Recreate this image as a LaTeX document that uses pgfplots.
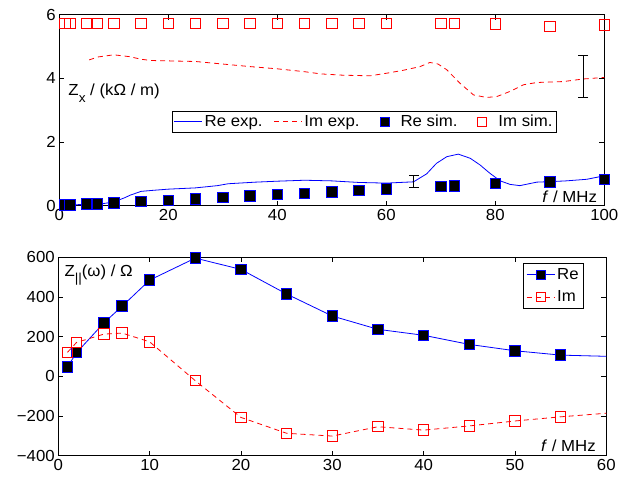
\documentclass[border=0pt]{standalone}
\usepackage{pgfplots}
\pgfplotsset{compat=1.18}
\usepackage{fontspec}
\setmainfont[FakeStretch=1.05]{Liberation Sans}

\definecolor{mblue}{rgb}{0,0,1}
\definecolor{mred}{rgb}{1,0,0}

\pgfplotsset{
  mstyle/.style={
    scale only axis, clip=false,
    tick align=inside, major tick length=5pt,
    axis line style={line width=1pt},
    every tick/.style={black, line width=0.8pt},
    tick label style={font=\fontsize{16}{18}\selectfont},
    /pgf/number format/assume math mode=true,
    legend cell align=left,
    legend style={font=\fontsize{16}{18}\selectfont,
      inner sep=2pt, nodes={inner sep=2pt}},
  },
  bluelineleg/.style={legend image code/.code={
    \draw[draw=mblue, line width=0.9pt] (0pt,0pt) -- (28pt,0pt);}},
  redlineleg/.style={legend image code/.code={
    \draw[draw=mred, line width=0.9pt, dash pattern=on 5pt off 4pt] (0pt,0pt) -- (28pt,0pt);}},
  markleg/.style={legend image code/.code={
    \path[draw=none] (0pt,0pt) -- (28pt,0pt);
    \path[##1, draw=none, mark size=4.5pt] plot coordinates {(14pt,0pt)};}},
  releg/.style={legend image code/.code={
    \draw[draw=mblue, line width=0.9pt] (0pt,0pt) -- (28pt,0pt);
    \path[##1, draw=none, mark size=4.5pt] plot coordinates {(14pt,0pt)};}},
  imleg/.style={legend image code/.code={
    \draw[draw=mred, line width=0.9pt, dash pattern=on 5pt off 4pt] (0pt,0pt) -- (28pt,0pt);
    \path[##1, draw=none, mark size=4.5pt] plot coordinates {(14pt,0pt)};}},
  errbar/.style={black, line width=1pt, mark=-, mark size=5pt,
    mark options={solid, line width=1pt}, forget plot},
}

\begin{document}
\begin{tikzpicture}[font=\fontsize{16}{18}\selectfont]
\useasboundingbox (0,0) rectangle (630pt,-477pt);

% upper panel: transverse impedance
\begin{axis}[mstyle,
  at={(59.3pt,-205.7pt)}, anchor=south west,
  width=545pt, height=191pt,
  xmin=0, xmax=100, ymin=0, ymax=6,
  xtick={0,20,...,100}, ytick={0,2,4,6},
  legend columns=4,
  legend style={at={(0.206,0.496)}, anchor=north west,
    /tikz/every even column/.append style={column sep=9pt}},
]
\addplot[mblue, line width=0.8pt, bluelineleg] coordinates {
  (0.5,0.02) (5,0.04) (7.5,0.05) (10,0.12) (12,0.25) (13,0.33) (15,0.45)
  (17,0.48) (20,0.52) (25,0.56) (29,0.63) (31,0.69) (36,0.74) (40,0.77)
  (45,0.80) (50,0.78) (55,0.73) (60,0.71) (65,0.75) (67.4,1.00) (69.2,1.33)
  (71.1,1.54) (73.2,1.62) (75.4,1.49) (77.2,1.28) (79,1.02) (80.9,0.78)
  (82.7,0.67) (84.5,0.63) (87.6,0.74) (90.6,0.76) (93,0.78) (96.8,0.83)
  (100,0.94)
};
\addlegendentry{Re exp.}
\addplot[mred, line width=0.8pt, dash pattern=on 5pt off 4pt, redlineleg] coordinates {
  (5.5,4.58) (7,4.67) (10,4.74) (13,4.68) (15,4.60) (17,4.56) (20,4.55)
  (25,4.53) (30,4.45) (35,4.37) (40,4.30) (45,4.21) (48,4.14) (52,4.10)
  (57,4.08) (60,4.16) (63,4.25) (66.2,4.37) (68,4.50) (69.5,4.45)
  (71.1,4.27) (73.5,3.85) (76,3.48) (78.4,3.40) (80.3,3.43) (82.7,3.59)
  (85.2,3.80) (87.6,3.87) (92.5,3.90) (96.1,3.98) (100,4.03)
};
\addlegendentry{Im exp.}
\addplot[only marks, mark=square*, mark size=5.25pt,
  mark options={fill=black, draw=mblue, line width=1pt}, markleg] coordinates {
  (1,0.02) (2,0.02) (5,0.05) (7,0.05) (10,0.09) (15,0.13) (20,0.17)
  (25,0.21) (30,0.25) (35,0.30) (40,0.35) (45,0.39) (50,0.43) (55,0.48)
  (60,0.52) (70,0.61) (72.5,0.62) (80,0.69) (90,0.74) (100,0.83)
};
\addlegendentry{Re sim.}
\addplot[only marks, mark=square, mark size=5.25pt,
  mark options={draw=mred, line width=1pt}, markleg] coordinates {
  (1,5.73) (2,5.73) (5,5.73) (7,5.73) (10,5.73) (15,5.73) (20,5.73)
  (25,5.73) (30,5.73) (35,5.73) (40,5.73) (45,5.73) (50,5.73) (55,5.73)
  (60,5.72) (70,5.72) (72.5,5.72) (80,5.71) (90,5.63) (100,5.68)
};
\addlegendentry{Im sim.}
% measurement uncertainty bars
\addplot[errbar] coordinates {(65,0.57) (65,0.94)};
\addplot[errbar] coordinates {(96.1,3.40) (96.1,4.71)};
\node[anchor=base west, inner sep=0pt] at (rel axis cs:0.0165,0.576)
  {Z\raisebox{-6.5pt}{\fontsize{13}{13}\selectfont x} / (kΩ / m)};
\node[anchor=base east, inner sep=0pt] at (rel axis cs:0.987,0.018)
  {\textit{f} / MHz};
\end{axis}

% lower panel: longitudinal impedance
\begin{axis}[mstyle,
  at={(58.3pt,-455.7pt)}, anchor=south west,
  width=548pt, height=198.4pt,
  xmin=0, xmax=60, ymin=-400, ymax=600,
  xtick={0,10,...,60}, ytick={-400,-200,...,600},
  yticklabels={−400,−200,0,200,400,600},
  legend style={at={(0.959,0.970)}, anchor=north east, row sep=6pt, inner sep=3pt},
]
\addplot[mblue, line width=0.8pt, forget plot] coordinates {
  (1,48) (2,119) (5,270) (7,354) (10,485) (15,596) (20,539) (25,415)
  (30,304) (35,237) (40,207) (45,161) (50,129) (55,107) (60,101)
};
\addplot[mred, line width=0.8pt, dash pattern=on 5pt off 4pt, forget plot] coordinates {
  (1,121) (2,171) (5,213) (7,218) (10,174) (15,-22) (20,-207) (25,-287)
  (30,-301) (35,-254) (40,-271) (45,-250) (50,-225) (55,-204) (60,-186)
};
\addplot[only marks, mark=square*, mark size=5.25pt,
  mark options={fill=black, draw=mblue, line width=1pt}, releg] coordinates {
  (1,48) (2,119) (5,270) (7,354) (10,485) (15,596) (20,539) (25,415)
  (30,304) (35,237) (40,207) (45,161) (50,129) (55,107)
};
\addlegendentry{Re}
\addplot[only marks, mark=square, mark size=5.25pt,
  mark options={draw=mred, line width=1pt}, imleg] coordinates {
  (1,121) (2,171) (5,213) (7,218) (10,174) (15,-22) (20,-207) (25,-287)
  (30,-301) (35,-254) (40,-271) (45,-250) (50,-225) (55,-204)
};
\addlegendentry{Im}
\node[anchor=base west, inner sep=0pt] at (rel axis cs:0.011,0.904)
  {Z\raisebox{-6.5pt}{\fontsize{13}{13}\selectfont ||}(ω) / Ω};
\node[anchor=base east, inner sep=0pt] at (rel axis cs:0.981,0.02)
  {\textit{f} / MHz};
\end{axis}
\end{tikzpicture}
\end{document}
